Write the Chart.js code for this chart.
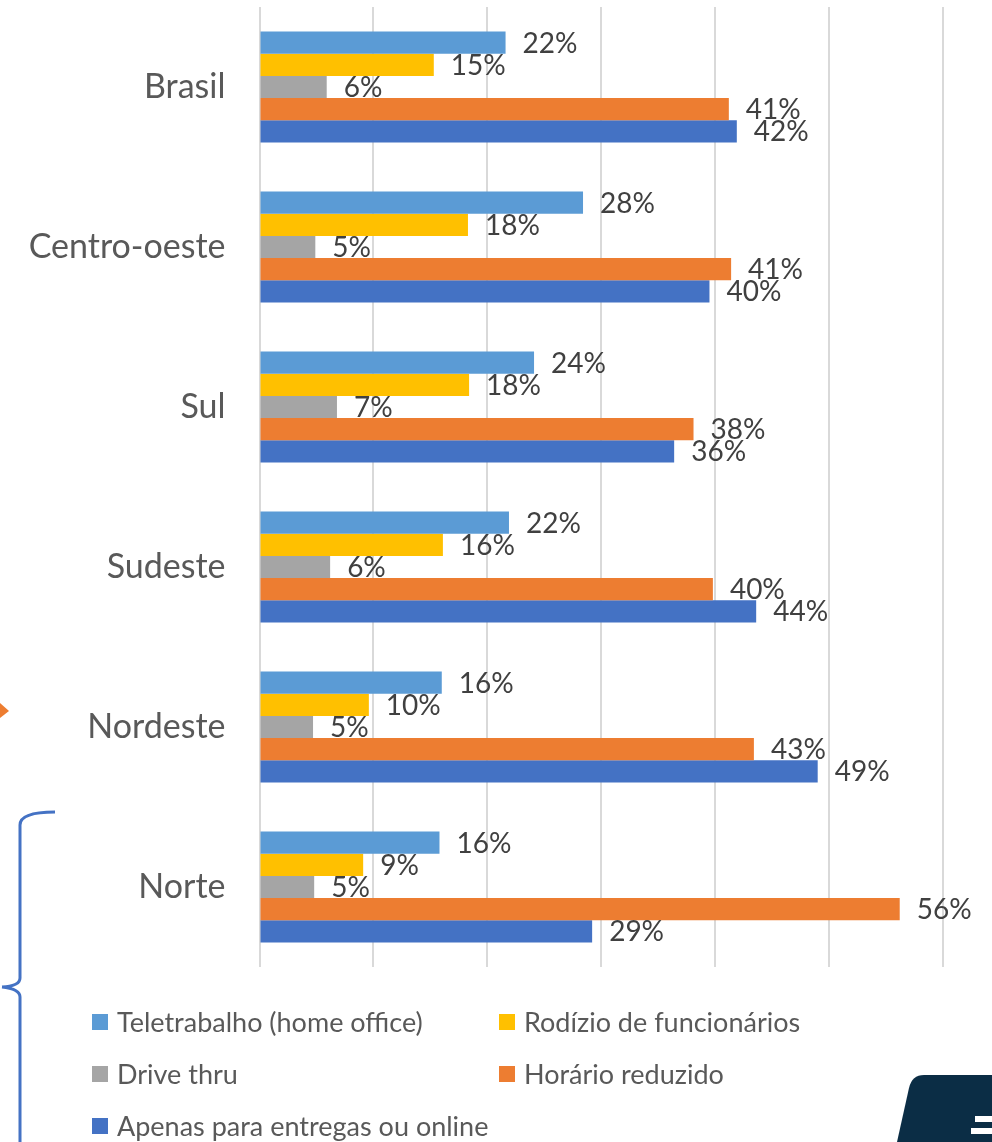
<!DOCTYPE html>
<html>
<head>
<meta charset="utf-8">
<script src="https://cdn.jsdelivr.net/npm/chart.js@4"></script>
<style>
  html, body { margin: 0; padding: 0; background: #fff; }
  #wrap { width: 992px; height: 1142px; position: relative; }
</style>
</head>
<body>
<div id="wrap"><canvas id="chart" width="992" height="1142"></canvas></div>
<script>
// categories, top to bottom
const regioes = ['Brasil', 'Centro-oeste', 'Sul', 'Sudeste', 'Nordeste', 'Norte'];

// percent of companies
const teletrabalho = [21.6, 28.4, 24.1, 21.9, 16.0, 15.8];
const rodizio      = [15.3, 18.3, 18.4, 16.1,  9.6,  9.1];
const driveThru    = [ 5.9,  4.9,  6.8,  6.2,  4.7,  4.8];
const horarioRed   = [41.2, 41.4, 38.1, 39.8, 43.4, 56.2];
const apenasOnline = [41.9, 39.5, 36.4, 43.6, 49.0, 29.2];

const seriesNames = [
  'Teletrabalho (home office)',
  'Rodízio de funcionários',
  'Drive thru',
  'Horário reduzido',
  'Apenas para entregas ou online'
];
const seriesColors = ['#5B9BD5', '#FFC000', '#A5A5A5', '#ED7D31', '#4472C4'];

const FONT = 'Lato, "Open Sans", sans-serif';

// value labels right of each bar
const valueLabels = {
  id: 'valueLabels',
  afterDatasetsDraw(chart) {
    const ctx = chart.ctx;
    ctx.save();
    ctx.font = '28px ' + FONT;
    ctx.fillStyle = '#404040';
    ctx.textAlign = 'left';
    ctx.textBaseline = 'middle';
    chart.data.datasets.forEach((ds, di) => {
      chart.getDatasetMeta(di).data.forEach((bar, i) => {
        ctx.fillText(Math.round(ds.data[i]) + '%', bar.x + 17, bar.y + 1);
      });
    });
    ctx.restore();
  }
};

// legend in two columns under the plot
const gridLegend = {
  id: 'gridLegend',
  afterDraw(chart) {
    const ctx = chart.ctx;
    const cols = [92, 499];
    const rows = [1022, 1074, 1126];
    ctx.save();
    ctx.font = '27px ' + FONT;
    ctx.textBaseline = 'middle';
    ctx.textAlign = 'left';
    chart.data.datasets.forEach((ds, i) => {
      const x = cols[i % 2];
      const y = rows[Math.floor(i / 2)];
      ctx.fillStyle = ds.backgroundColor;
      ctx.fillRect(x, y - 8, 16, 16);
      ctx.fillStyle = '#595959';
      ctx.fillText(ds.label, x + 25, y + 1);
    });
    ctx.restore();
  }
};

// slide leftovers: arrow tip, brace and logo corner
const slideBits = {
  id: 'slideBits',
  afterDraw(chart) {
    const ctx = chart.ctx;
    ctx.save();
    ctx.fillStyle = '#ED7D31';
    ctx.beginPath();
    ctx.moveTo(0, 703); ctx.lineTo(9, 711); ctx.lineTo(0, 718); ctx.closePath();
    ctx.fill();

    ctx.strokeStyle = '#4472C4';
    ctx.lineWidth = 3;
    ctx.beginPath();
    ctx.moveTo(55, 812);
    ctx.quadraticCurveTo(20, 812, 20, 825);
    ctx.lineTo(20, 978);
    ctx.quadraticCurveTo(20, 986, 2, 987);
    ctx.moveTo(2, 987);
    ctx.quadraticCurveTo(20, 989, 20, 997);
    ctx.lineTo(20, 1142);
    ctx.stroke();

    ctx.fillStyle = '#0B2D45';
    ctx.beginPath();
    ctx.moveTo(924, 1075);
    ctx.lineTo(992, 1075);
    ctx.lineTo(992, 1142);
    ctx.lineTo(897, 1142);
    ctx.lineTo(909, 1088);
    ctx.quadraticCurveTo(912, 1075, 924, 1075);
    ctx.fill();
    ctx.fillStyle = '#ffffff';
    ctx.fillRect(975, 1116, 17, 6);
    ctx.fillRect(971, 1128, 21, 6);
    ctx.restore();
  }
};

const datasets = [teletrabalho, rodizio, driveThru, horarioRed, apenasOnline].map((d, i) => ({
  label: seriesNames[i],
  data: d,
  backgroundColor: seriesColors[i],
  borderWidth: 0,
  categoryPercentage: 0.694,
  barPercentage: 1.0
}));

new Chart(document.getElementById('chart'), {
  type: 'bar',
  data: { labels: regioes, datasets: datasets },
  options: {
    indexAxis: 'y',
    responsive: false,
    animation: false,
    layout: { padding: { top: 7, right: 49, bottom: 175, left: 0 } },
    plugins: {
      legend: { display: false },
      tooltip: { enabled: false }
    },
    scales: {
      x: {
        min: 0,
        max: 60,
        ticks: { display: false, stepSize: 10 },
        grid: { color: '#D9D9D9', lineWidth: 2, drawTicks: false },
        border: { display: false },
        afterFit(scale) { scale.height = 0; }
      },
      y: {
        grid: { display: false, drawTicks: false },
        border: { display: false },
        ticks: {
          color: '#595959',
          font: { family: FONT, size: 34 },
          padding: 34
        },
        afterFit(scale) {
          scale.width = 259.5;
          scale.paddingTop = 0;
          scale.paddingBottom = 0;
        }
      }
    }
  },
  plugins: [valueLabels, gridLegend, slideBits]
});
</script>
</body>
</html>
